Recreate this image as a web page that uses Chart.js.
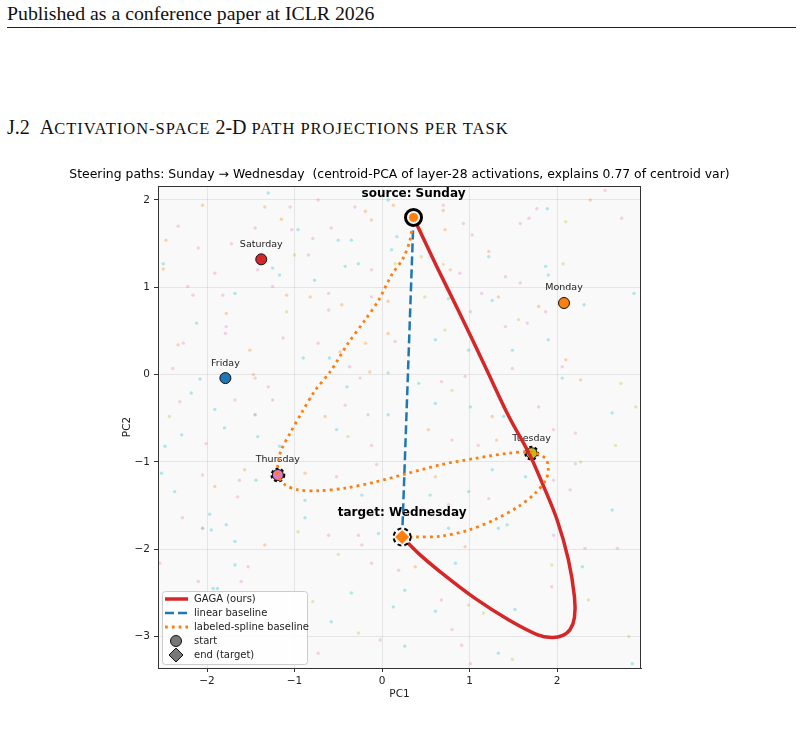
<!DOCTYPE html>
<html>
<head>
<meta charset="utf-8">
<script src="https://cdn.jsdelivr.net/npm/chart.js@4.4.0/dist/chart.umd.min.js"></script>
<style>
body { margin: 0; background: #fff; width: 804px; height: 733px; overflow: hidden; position: relative; font-family: "Liberation Serif", "Times New Roman", serif; color: #111; }
#hdr { position: absolute; left: 7px; top: 4px; font-size: 19.8px; line-height: 19px; }
#rule { position: absolute; left: 7px; width: 789px; top: 27px; border-top: 1px solid #222; }
#sec { position: absolute; left: 7px; top: 118px; font-size: 20px; line-height: 19px; white-space: pre; }
#sec .t { margin-left: 10px; }
#sec .s { font-size: 16.5px; letter-spacing: 1px; }
#c { position: absolute; left: 0; top: 0; }
</style>
</head>
<body>
<div id="hdr">Published as a conference paper at ICLR 2026</div>
<div id="rule"></div>
<div id="sec">J.2<span class="t">A<span class="s">CTIVATION-SPACE</span> 2-D <span class="s">PATH PROJECTIONS PER TASK</span></span></div>
<canvas id="c" width="804" height="733"></canvas>
<script>
// axes
const xRange = [-2.56, 2.96];
const yRange = [-3.36, 2.16];
const chartTitle = 'Steering paths: Sunday \u2192 Wednesday  (centroid-PCA of layer-28 activations, explains 0.77 of centroid var)';

// day centroids
const dayNames = ['Monday', 'Tuesday', 'Wednesday', 'Thursday', 'Friday', 'Saturday', 'Sunday'];
const dayX = [2.08, 1.71, 0.23, -1.19, -1.79, -1.38, 0.36];
const dayY = [0.82, -0.90, -1.86, -1.15, -0.04, 1.32, 1.80];
const dayColors = ['#ff7f0e', '#bcbd22', '#2ca02c', '#e377c2', '#1f77b4', '#d62728', '#9467bd'];
const sourceDay = 'Sunday';
const targetDay = 'Wednesday';
const waypointDays = ['Thursday', 'Tuesday'];

// paths
const gagaPath = [[0.36,1.80],[0.61,1.27],[0.87,0.74],[1.18,0.09],[1.45,-0.48],[1.68,-0.90],[1.83,-1.24],[2.00,-1.66],
  [2.13,-2.12],[2.20,-2.55],[2.20,-2.78],[2.15,-2.92],[2.06,-2.99],[1.94,-3.01],[1.78,-2.98],[1.45,-2.81],[1.06,-2.56],
  [0.68,-2.27],[0.42,-2.05],[0.23,-1.86]];
const linearPath = [[0.36,1.80],[0.23,-1.86]];
const splinePath = [[0.36,1.80],[0.32,1.54],[0.24,1.33],[0.11,1.14],[-0.04,0.85],[-0.19,0.63],[-0.40,0.34],[-0.58,0.05],
  [-0.77,-0.19],[-0.92,-0.44],[-1.05,-0.67],[-1.15,-0.86],[-1.19,-1.02],[-1.19,-1.15],[-1.11,-1.26],[-0.96,-1.32],
  [-0.73,-1.33],[-0.42,-1.30],[-0.08,-1.23],[0.30,-1.13],[0.68,-1.03],[1.06,-0.96],[1.45,-0.90],[1.71,-0.89],[1.87,-0.96],
  [1.90,-1.09],[1.87,-1.21],[1.75,-1.36],[1.56,-1.51],[1.29,-1.66],[0.99,-1.78],[0.68,-1.85],[0.38,-1.86],[0.23,-1.86]];

// faint background activations
const noiseCyan = [[-1.30,2.08],[0.07,2.00],[1.89,1.90],[-0.96,1.66],[-0.50,1.54],[-0.35,1.54],[0.17,1.58],[-2.50,1.27],
  [-1.25,1.22],[-1.17,1.14],[-0.77,1.08],[-0.42,1.24],[-0.27,1.27],[0.11,1.43],[1.22,1.35],[1.87,1.24],[1.90,1.14],
  [-1.68,0.93],[0.76,0.87],[1.26,0.85],[2.31,0.80],[2.88,0.93],[-2.12,0.59],[0.61,0.40],[0.99,0.28],[1.90,0.40],
  [1.49,0.28],[-2.08,-0.05],[-0.90,0.19],[-0.60,0.19],[0.07,0.02],[0.42,-0.10],[2.06,-0.04],[-0.40,-0.14],[-2.18,-0.21],
  [-1.91,-0.40],[0.07,-0.46],[0.61,-0.33],[1.01,-0.37],[1.39,-0.48],[2.63,-0.44],[-2.29,-0.69],[-1.80,-0.61],
  [-1.42,-0.71],[-1.17,-0.82],[-0.52,-0.63],[-2.48,-0.82],[-2.52,-1.13],[-1.44,-1.21],[1.26,-1.09],[1.64,-1.17],
  [-2.37,-1.34],[-0.88,-1.44],[-0.23,-1.38],[0.55,-1.38],[0.99,-1.34],[2.63,-1.55],[-0.88,-1.64],[-1.97,-1.60],
  [-1.95,-1.78],[-1.78,-1.72],[-1.68,-1.91],[-0.04,-1.82],[0.76,-1.76],[1.33,-1.76],[1.43,-1.72],[-1.68,-2.18],
  [0.84,-2.16],[2.29,-2.20],[-1.93,-2.45],[-1.88,-2.45],[-0.35,-2.50],[0.26,-2.47],[0.61,-2.71],[1.52,-2.69],
  [0.13,-2.66],[-0.58,-2.83],[0.26,-3.11],[1.33,-3.19],[2.86,-3.31]];
const noisePink = [[-1.05,1.92],[-0.73,2.00],[-0.31,1.92],[0.70,1.94],[1.77,1.90],[2.55,2.11],[1.68,1.79],[-2.33,1.70],
  [-1.03,1.66],[-0.79,1.56],[-0.58,1.68],[0.93,1.73],[1.03,1.60],[-2.10,1.45],[-1.72,1.50],[-1.45,1.68],[1.58,1.73],
  [2.74,1.79],[-1.91,1.16],[-1.42,1.20],[-0.84,1.37],[-0.12,1.20],[0.89,1.16],[1.41,1.12],[1.58,1.05],[-2.22,1.01],
  [-2.16,0.91],[-1.82,0.91],[-1.25,1.01],[-0.61,0.93],[-0.61,0.74],[-0.12,0.89],[1.14,0.93],[1.87,0.72],[1.01,0.72],
  [-1.78,0.55],[-1.79,0.47],[-2.27,0.36],[-1.13,0.42],[-0.73,0.36],[0.15,0.38],[1.41,0.55],[1.66,0.59],[-2.39,0.07],
  [-1.45,-0.04],[-1.30,-0.14],[-0.37,0.09],[-0.25,-0.04],[0.68,-0.08],[0.95,-0.02],[1.49,0.07],[2.06,0.09],[-2.31,-0.31],
  [-1.68,-0.29],[-1.25,-0.29],[-0.82,-0.27],[-0.42,-0.35],[-0.16,-0.46],[1.79,-0.37],[-2.01,-0.79],[-0.12,-0.81],
  [0.80,-0.75],[1.10,-0.81],[1.96,-0.63],[2.21,-0.67],[-2.05,-1.15],[-1.63,-1.21],[-0.52,-1.17],[-0.06,-1.03],
  [1.96,-1.21],[2.21,-1.02],[-1.65,-1.40],[0.76,-1.49],[1.22,-1.42],[2.15,-1.32],[-2.28,-1.64],[-0.61,-1.84],
  [-0.27,-1.84],[1.96,-1.84],[2.32,-1.99],[-0.23,-1.95],[-2.54,-2.16],[-1.53,-2.20],[-0.12,-2.16],[0.19,-2.24],
  [2.69,-1.99],[-2.10,-2.37],[-1.61,-2.37],[0.68,-2.58],[1.94,-2.43],[-0.02,-3.04],[0.80,-2.92],[0.91,-3.10],
  [1.01,-3.31],[-0.73,-3.19]];
const noiseOrange = [[-2.05,1.94],[-1.34,1.92],[0.13,1.94],[0.70,1.88],[2.38,2.00],[-1.15,1.78],[-0.19,1.87],[-0.12,1.77],
  [0.72,1.66],[-2.47,1.54],[-2.50,1.21],[0.78,1.20],[1.22,1.41],[-1.09,0.91],[-0.82,0.89],[-0.46,0.80],[0.07,0.84],
  [1.33,0.89],[1.79,0.78],[-1.78,0.70],[-2.33,0.34],[-1.51,0.28],[-0.48,0.26],[-0.19,0.36],[0.07,0.47],[2.10,0.17],
  [-1.47,0.00],[-0.14,0.03],[2.27,-0.06],[-0.65,-0.48],[1.26,-0.48],[0.53,-0.63],[1.31,-0.75],[-1.57,-1.09],
  [-0.88,-1.13],[0.61,-1.17],[-1.91,-1.28],[-1.34,-1.95],[0.95,-1.97],[0.38,-2.20]];
const noiseOlive = [[2.10,1.75],[0.45,1.66],[-1.00,1.37],[0.15,1.27],[0.45,1.35],[0.70,1.26],[2.07,1.27],[-1.09,0.72],
  [0.49,0.89],[0.72,0.51],[1.56,0.63],[2.73,-0.10],[0.80,-0.18],[2.90,-0.37],[-2.43,-0.48],[-0.39,-0.71],[2.67,-0.81],
  [2.27,-1.00],[-0.96,-1.80],[-0.50,-2.06],[1.94,-2.18],[-0.79,-2.60],[0.99,-2.64],[2.36,-2.58],[1.16,-2.73],
  [-0.27,-2.96],[1.49,-3.26],[2.82,-3.00]];
const noiseBrown = [[-1.45,-0.46],[-2.05,-1.76]];

const legendLabels = ['GAGA (ours)', 'linear baseline', 'labeled-spline baseline', 'start', 'end (target)'];

const RED = '#d62728', BLUE = '#1f77b4', ORANGE = '#ff7f0e';
const pts = arr => arr.map(p => ({x: p[0], y: p[1]}));
const dayPt = name => { const i = dayNames.indexOf(name); return {x: dayX[i], y: dayY[i]}; };
const srcPt = dayPt(sourceDay), tgtPt = dayPt(targetDay);

function noiseSet(arr, color) {
    return { data: pts(arr), pointRadius: 1.7, pointBorderWidth: 0, backgroundColor: color, borderColor: color, order: 50 };
}

// background, frame, title, legend
const framePlugin = {
    id: 'frame',
    beforeDraw(chart) {
        const {ctx, chartArea: a} = chart;
        ctx.save();
        ctx.fillStyle = '#f9f9f9';
        ctx.fillRect(a.left, a.top, a.right - a.left, a.bottom - a.top);
        ctx.restore();
    },
    afterDraw(chart) {
        const {ctx, chartArea: a} = chart;
        ctx.save();
        ctx.strokeStyle = '#333';
        ctx.lineWidth = 1;
        ctx.strokeRect(a.left + 0.5, a.top + 0.5, a.right - a.left - 1, a.bottom - a.top);
        ctx.fillStyle = '#000';
        ctx.font = '12.4px "DejaVu Sans"';
        ctx.textAlign = 'center';
        ctx.textBaseline = 'middle';
        ctx.fillText(chartTitle, (a.left + a.right) / 2, 175);

        // legend
        const lx = a.left + 4, lw = 145, lh = 73, ly = a.bottom - 4 - lh;
        ctx.fillStyle = 'rgba(255,255,255,0.85)';
        ctx.strokeStyle = '#cccccc';
        ctx.beginPath();
        ctx.roundRect(lx + 0.5, ly + 0.5, lw, lh, 3);
        ctx.fill();
        ctx.stroke();
        ctx.font = '10px "DejaVu Sans"';
        ctx.textAlign = 'left';
        legendLabels.forEach((lab, i) => {
            const ry = ly + 8 + i * 14;
            ctx.save();
            if (i < 3) {
                ctx.strokeStyle = [RED, BLUE, ORANGE][i];
                ctx.lineWidth = [3.5, 2.5, 2.8][i];
                ctx.setLineDash([[], [9, 4], [2.8, 4]][i]);
                ctx.beginPath();
                ctx.moveTo(lx + 3, ry);
                ctx.lineTo(lx + 26, ry);
                ctx.stroke();
            } else {
                ctx.fillStyle = '#777';
                ctx.strokeStyle = '#111';
                ctx.lineWidth = 1;
                ctx.beginPath();
                const cx = lx + 14;
                if (i === 3) {
                    ctx.arc(cx, ry, 5.5, 0, Math.PI * 2);
                } else {
                    ctx.moveTo(cx, ry - 7); ctx.lineTo(cx + 7, ry); ctx.lineTo(cx, ry + 7); ctx.lineTo(cx - 7, ry); ctx.closePath();
                }
                ctx.fill();
                ctx.stroke();
            }
            ctx.restore();
            ctx.fillStyle = '#222';
            ctx.fillText(lab, lx + 32, ry);
        });
        ctx.restore();
    }
};

// dashed ring markers + day labels (under the paths)
const dashPlugin = {
    id: 'ringDash',
    beforeDatasetDraw(chart, args) {
        const ds = chart.data.datasets[args.index];
        if (ds.ringDash) { chart.ctx.save(); chart.ctx.setLineDash(ds.ringDash); }
    },
    afterDatasetDraw(chart, args) {
        const ds = chart.data.datasets[args.index];
        if (ds.ringDash) chart.ctx.restore();
        if (ds.label !== 'waypoints') return;
        const {ctx, scales: {x, y}} = chart;
        ctx.save();
        ctx.setLineDash([]);
        ctx.textAlign = 'center';
        ctx.textBaseline = 'middle';
        dayNames.forEach((d, i) => {
            const px = x.getPixelForValue(dayX[i]), py = y.getPixelForValue(dayY[i]);
            if (d === sourceDay || d === targetDay) {
                ctx.font = 'bold 12px "DejaVu Sans"';
                ctx.fillStyle = '#000';
                ctx.fillText((d === sourceDay ? 'source: ' : 'target: ') + d, px, py - 24);
            } else {
                ctx.font = '9.5px "DejaVu Sans"';
                ctx.fillStyle = '#222';
                ctx.fillText(d, px, py - 15);
            }
        });
        ctx.restore();
    }
};

Chart.defaults.font.family = '"DejaVu Sans"';

new Chart(document.getElementById('c'), {
    type: 'scatter',
    data: {
        datasets: [
            // end markers
            { data: [tgtPt], pointStyle: 'rectRot', pointRadius: 7.5, backgroundColor: ORANGE, borderColor: '#fff', pointBorderWidth: 1, order: 1 },
            { data: [tgtPt], pointStyle: 'rectRot', pointRadius: 7.5, backgroundColor: BLUE, borderColor: '#fff', pointBorderWidth: 1, order: 2 },
            { data: [tgtPt], pointStyle: 'rectRot', pointRadius: 7.5, backgroundColor: RED, borderColor: '#fff', pointBorderWidth: 1, order: 3 },
            { data: [tgtPt], pointRadius: 8.5, backgroundColor: '#fff', borderColor: '#000', pointBorderWidth: 2, ringDash: [4, 3], order: 4 },
            // start markers
            { data: [srcPt], pointRadius: 5, backgroundColor: ORANGE, borderColor: '#fff', pointBorderWidth: 1, order: 1 },
            { data: [srcPt], pointRadius: 5, backgroundColor: BLUE, borderColor: '#fff', pointBorderWidth: 1, order: 2 },
            { data: [srcPt], pointRadius: 5, backgroundColor: RED, borderColor: '#fff', pointBorderWidth: 1, order: 3 },
            { data: [srcPt], pointRadius: 8, backgroundColor: '#fff', borderColor: '#000', pointBorderWidth: 3, order: 4 },
            // paths
            { data: pts(splinePath), showLine: true, pointRadius: 0, borderColor: ORANGE, borderWidth: 2.8, borderDash: [2.8, 4], tension: 0.3, order: 10 },
            { data: pts(linearPath), showLine: true, pointRadius: 0, borderColor: BLUE, borderWidth: 2.5, borderDash: [9, 4], order: 11 },
            { data: pts(gagaPath), showLine: true, pointRadius: 0, borderColor: RED, borderWidth: 3.5, tension: 0.35, order: 12 },
            // waypoint rings
            { label: 'waypoints', data: waypointDays.map(dayPt), pointRadius: 6.5, backgroundColor: 'rgba(0,0,0,0)', borderColor: '#000', pointBorderWidth: 1.8, ringDash: [3, 2.5], order: 20 },
            // day centroids
            { data: dayNames.map(dayPt), pointRadius: 5.5, backgroundColor: dayColors, borderColor: '#111', pointBorderWidth: 1, order: 30 },
            noiseSet(noiseCyan, 'rgba(23,190,207,0.33)'),
            noiseSet(noisePink, 'rgba(227,119,194,0.33)'),
            noiseSet(noiseOrange, 'rgba(255,127,14,0.33)'),
            noiseSet(noiseOlive, 'rgba(188,189,34,0.33)'),
            noiseSet(noiseBrown, 'rgba(140,86,75,0.33)')
        ]
    },
    options: {
        responsive: false,
        animation: false,
        events: [],
        layout: { padding: { left: 110, right: 163, top: 186, bottom: 32 } },
        plugins: { legend: { display: false }, tooltip: { enabled: false } },
        scales: {
            x: {
                min: xRange[0], max: xRange[1],
                ticks: { stepSize: 1, includeBounds: false, color: '#222', font: { size: 10.5 }, padding: 3,
                    callback: v => v < 0 ? '\u2212' + Math.abs(v) : String(v) },
                grid: { color: 'rgba(0,0,0,0.08)', tickColor: '#333', tickLength: 4 },
                border: { color: '#333' },
                title: { display: true, text: 'PC1', color: '#222', font: { size: 10.5 }, padding: { top: 2, bottom: 0 } },
                afterFit: s => { s.height = 33; }
            },
            y: {
                min: yRange[0], max: yRange[1],
                ticks: { stepSize: 1, includeBounds: false, color: '#222', font: { size: 10.5 }, padding: 4,
                    callback: v => v < 0 ? '\u2212' + Math.abs(v) : String(v) },
                grid: { color: 'rgba(0,0,0,0.08)', tickColor: '#333', tickLength: 4 },
                border: { color: '#333' },
                title: { display: true, text: 'PC2', color: '#222', font: { size: 10.5 }, padding: { top: 11, bottom: 0 } },
                afterFit: s => { s.width = 48; }
            }
        }
    },
    plugins: [framePlugin, dashPlugin]
});
</script>
</body>
</html>
